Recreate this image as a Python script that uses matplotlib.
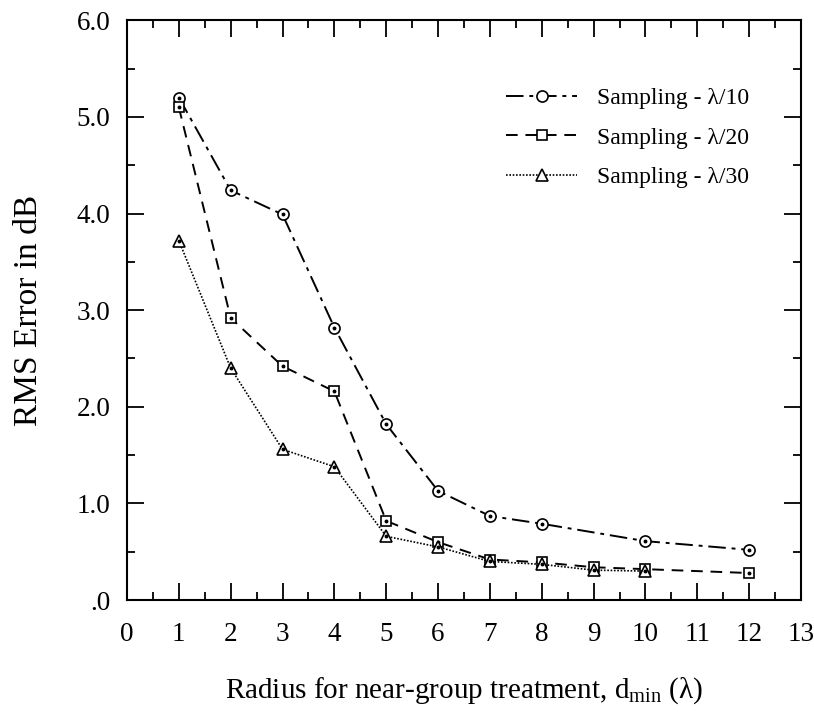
import numpy as np
import matplotlib
matplotlib.use("Agg")
import matplotlib.pyplot as plt
from matplotlib.ticker import MultipleLocator, FuncFormatter

plt.rcParams['font.family'] = ['Liberation Serif', 'DejaVu Serif']
plt.rcParams['mathtext.fontset'] = 'custom'
plt.rcParams['mathtext.rm'] = 'Liberation Serif'

# RMS error vs. near-group radius for three sampling densities
r10 = [1, 2, 3, 4, 5, 6, 7, 8, 10, 12]
err10 = [5.20, 4.24, 3.99, 2.82, 1.82, 1.13, 0.87, 0.79, 0.61, 0.52]

r20 = [1, 2, 3, 4, 5, 6, 7, 8, 9, 10, 12]
err20 = [5.10, 2.92, 2.42, 2.16, 0.82, 0.60, 0.42, 0.39, 0.34, 0.32, 0.28]

r30 = [1, 2, 3, 4, 5, 6, 7, 8, 9, 10]
err30 = [3.72, 2.40, 1.56, 1.38, 0.66, 0.55, 0.40, 0.37, 0.31, 0.30]

labels = ["Sampling - λ/10", "Sampling - λ/20", "Sampling - λ/30"]

fig = plt.figure(figsize=(8.14, 7.23), dpi=100)
ax = fig.add_axes([0.156, 0.170, 0.828, 0.802])

series = [
    (r10, err10, 'o', (0, (9, 3, 2, 3)), 1.4),
    (r20, err20, 's', (0, (6, 4)), 1.4),
    (r30, err30, '^', (0, (1, 1)), 1.2),
]
handles = []
for (x, y, m, ls, lw), lab in zip(series, labels):
    h, = ax.plot(x, y, color='black', linestyle=ls, linewidth=lw,
                 marker=m, markersize=8 if m != 's' else 7,
                 markerfacecolor='white', markeredgecolor='black',
                 markeredgewidth=1.2, label=lab)
    # small center dot inside each marker
    ax.plot(x, y, linestyle='none', marker='o', markersize=1.8,
            color='black')
    handles.append(h)

ax.set_xlim(0, 13)
ax.set_ylim(0, 6)
ax.xaxis.set_major_locator(MultipleLocator(1))
ax.xaxis.set_minor_locator(MultipleLocator(0.5))
ax.yaxis.set_major_locator(MultipleLocator(1))
ax.yaxis.set_minor_locator(MultipleLocator(0.5))
ax.yaxis.set_major_formatter(FuncFormatter(
    lambda v, p: ".0" if v == 0 else f"{v:.1f}"))

ax.tick_params(which='both', direction='in', top=True, right=True,
               labelsize=19.5, width=1.3)
ax.tick_params(which='major', length=12)
ax.tick_params(which='minor', length=6)
ax.tick_params(axis='x', which='major', pad=16)
ax.tick_params(axis='y', which='major', pad=12)
for s in ax.spines.values():
    s.set_linewidth(1.5)

ax.set_xlabel(r"Radius for near-group treatment, d$_{\mathrm{min}}$ (λ)",
              fontsize=21, labelpad=20)
ax.set_ylabel("RMS Error in dB", fontsize=24, labelpad=23)

leg = ax.legend(handles=handles, loc='upper right', frameon=False,
                fontsize=17, handlelength=3.0, handletextpad=0.85,
                labelspacing=0.75, bbox_to_anchor=(0.955, 0.92))

fig.savefig("out.png", dpi=100)
